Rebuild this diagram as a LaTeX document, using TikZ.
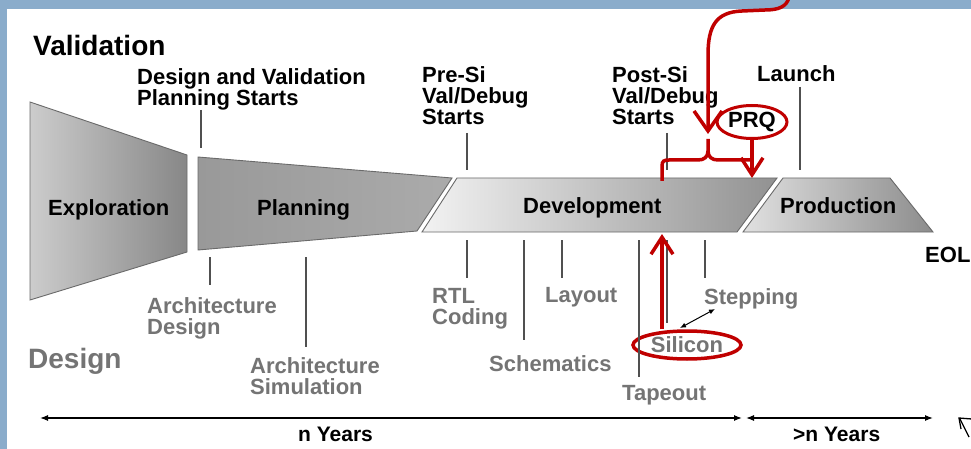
\documentclass[tikz,border=0pt]{standalone}
\usepackage{fontspec}
\setmainfont{Liberation Sans}
\usetikzlibrary{arrows.meta,shapes.geometric}
\definecolor{frameblue}{HTML}{8AACCB}
\definecolor{txtgray}{HTML}{747474}
\definecolor{tickgray}{HTML}{505050}
\definecolor{redm}{HTML}{C00000}
\definecolor{edgegray}{HTML}{6A6A6A}
\begin{document}
\begin{tikzpicture}[x=1pt,y=-1pt,
  lbl/.style={anchor=north west, inner sep=0pt, font=\fontsize{22}{21}\selectfont\bfseries, align=left},
  blk/.style={lbl, text=black},
  gry/.style={lbl, text=txtgray},
  big/.style={font=\fontsize{28}{28}\selectfont\bfseries},
  yrs/.style={font=\fontsize{21}{21}\selectfont\bfseries},
  tick/.style={draw=tickgray, line width=1.3pt},
  phase/.style={draw=edgegray, line width=0.9pt},
  redl/.style={draw=redm, line width=3.5pt},
  redarr/.style={redl, -{Straight Barb[length=20pt,width=28pt]}},
  redarrs/.style={redl, -{Straight Barb[length=17pt,width=22pt]}},
  tl/.style={draw=black, line width=1.2pt, {Latex[length=8pt,width=6pt]}-{Latex[length=8pt,width=6pt]}},
  ts/.style={draw=black, line width=1pt, {Latex[length=6pt,width=5pt]}-{Latex[length=6pt,width=5pt]}},
]
\useasboundingbox (0,0) rectangle (971,449);
\clip (0,0) rectangle (971,449);
% frame
\fill[frameblue] (0,0) rectangle (971,449);
\fill[white] (7,9) rectangle (971,449);

% phases
\path[phase, left color=black!20, right color=black!47] (30,102) -- (187,155) -- (187,252) -- (30,300) -- cycle;
\path[phase, left color=black!40, right color=black!33] (198,157) -- (452,178) -- (417,231) -- (198,250) -- cycle;
\path[phase, left color=black!5, right color=black!43] (457,178) -- (777,178) -- (737,232) -- (422,232) -- cycle;
\path[phase, left color=black!12, right color=black!45] (783,178) -- (890,178) -- (933,232) -- (743,232) -- cycle;

% labels
\node[blk, big] (val) at (33,35) {Validation};
\node[blk] (dvps) at (137,68) {Design and Validation\\Planning Starts};
\node[blk] (presi) at (422,66) {Pre-Si\\Val/Debug\\Starts};
\node[blk] (postsi) at (612,66) {Post-Si\\Val/Debug\\Starts};
\node[blk] (launch) at (757,65) {Launch};
\node[blk] (expl) at (48,199) {Exploration};
\node[blk] (plan) at (257,199) {Planning};
\node[blk] (dev) at (523,197) {Development};
\node[blk] (prod) at (780,197) {Production};
\node[blk] (eol) at (925,247) {EOL};
\node[gry] (archd) at (147,297) {Architecture\\Design};
\node[gry] (archs) at (250,357) {Architecture\\Simulation};
\node[gry, big] (design) at (28,348) {Design};
\node[gry] (rtl) at (432,288) {RTL\\Coding};
\node[gry] (layout) at (545,287) {Layout};
\node[gry] (schem) at (489,355) {Schematics};
\node[gry] (tape) at (622,385) {Tapeout};
\node[gry] (stepping) at (704,288) {Stepping};
\node[blk, yrs] (nyears) at (298,427) {n Years};
\node[blk, yrs] (mnyears) at (793,427) {>n Years};
\node[ellipse, draw=redm, line width=3.5pt, inner sep=0pt, minimum width=108pt, minimum height=28pt,
      text=txtgray, font=\fontsize{22}{21}\selectfont\bfseries] (silicon) at (687,345) {Silicon};
\node[ellipse, draw=redm, line width=3pt, inner sep=0pt, minimum width=70pt, minimum height=33pt,
      text=black, font=\fontsize{22}{21}\selectfont\bfseries] (prq) at (752,122) {PRQ};

% ticks
\draw[tick] (201,110) -- (201,148);
\draw[tick] (467,133) -- (467,170);
\draw[tick] (667,133) -- (667,170);
\draw[tick] (800,87) -- (800,170);
\draw[tick] (210,257) -- (210,285);
\draw[tick] (306,257) -- (306,347);
\draw[tick] (467,240) -- (467,278);
\draw[tick] (524,240) -- (524,340);
\draw[tick] (562,240) -- (562,278);
\draw[tick] (639,240) -- (639,377);
\draw[tick] (667,240) -- (667,323);
\draw[tick] (705,240) -- (705,278);

% time arrows
\coordinate (t0) at (40,418);
\coordinate (t1) at (742,418);
\coordinate (t2) at (746,418);
\coordinate (t3) at (933,418);
\draw[tl] (t0) -- (t1);
\draw[tl] (t2) -- (t3);

% silicon <-> stepping
\coordinate (s0) at (680,328);
\coordinate (s1) at (715,309);
\draw[ts] (s0) -- (s1);

% red annotations
\coordinate (topin) at (789,-3);
\coordinate (bracetip) at (708,134);
\draw[redarr] (topin) .. controls (787,7) and (778,10) .. (765,10) -- (742,11)
  .. controls (716,12) and (708,26) .. (708,55) -- (bracetip);
\draw[redl] (662,181) -- (662,166) .. controls (662,161) and (664,160) .. (669,160) -- (698,160)
  .. controls (704,160) and (708,157) .. (708,151) -- (708,139);
\draw[redl] (708,151) .. controls (708,157) and (712,160) .. (718,160) -- (752,160);
\coordinate (prqend) at (752,178);
\draw[redarrs] (prq.south) -- (prqend);
\coordinate (devbot) at (662,234);
\draw[redarrs] (silicon.north -| devbot) -- (devbot);

% cursor
\draw[black, line width=1.3pt, line join=miter] (972,419) -- (959,418) -- (961,429);
\draw[black, line width=1.3pt] (960,419) -- (969,437);
\end{tikzpicture}
\end{document}
